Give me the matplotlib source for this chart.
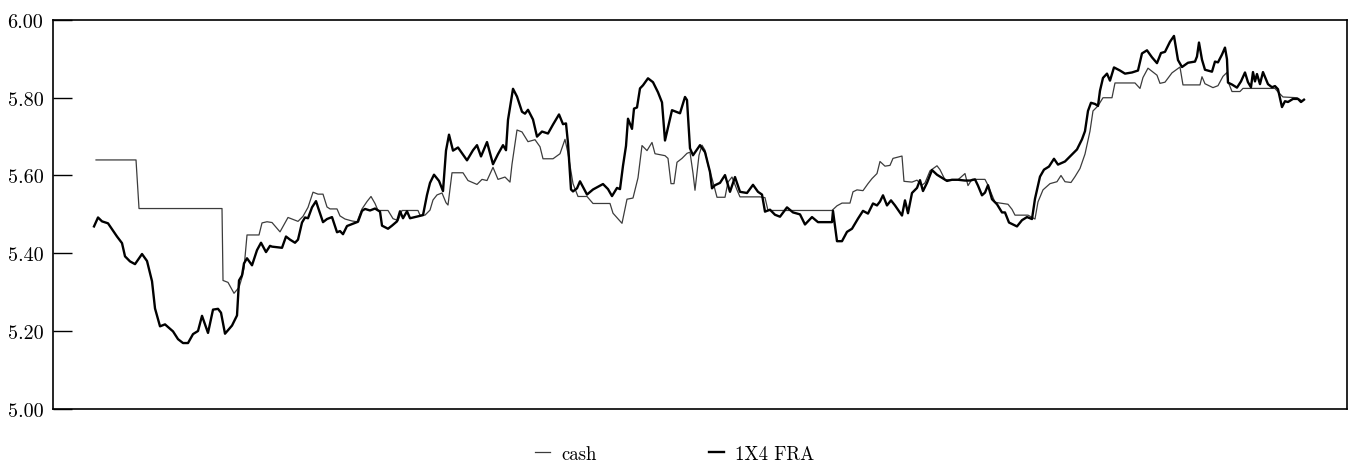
import matplotlib
matplotlib.use("Agg")
import matplotlib.pyplot as plt

# trading-day index (no dates shown on the axis) and rates in percent
fra_day = [-0.2, 0.6, 1.4, 2.6, 4.4, 5.4, 6.0, 7.0, 8.0, 9.4,
           10.4, 11.4, 12.0, 13.0, 14.0, 15.6, 16.6, 17.6, 18.6, 19.6,
           20.6, 21.4, 22.6, 23.6, 24.6, 25.2, 26.0, 27.4, 28.4, 28.8,
           29.4, 29.8, 30.4, 31.4, 32.4, 33.2, 34.2, 35.0, 35.4, 37.4,
           38.2, 39.0, 40.0, 40.6, 41.4, 42.0, 42.6, 43.4, 44.2, 44.6,
           45.6, 46.4, 47.4, 48.4, 49.0, 49.6, 50.4, 51.4, 52.6, 53.4,
           54.0, 55.0, 56.0, 57.0, 57.4, 58.6, 59.4, 60.4, 61.0, 61.6,
           62.4, 63.0, 64.6, 65.6, 66.4, 67.0, 67.8, 68.8, 69.6, 70.2,
           70.8, 71.6, 72.6, 74.4, 75.6, 76.4, 77.2, 78.4, 79.6, 80.6,
           81.6, 82.2, 82.6, 83.6, 84.4, 85.4, 86.0, 86.6, 87.6, 88.4,
           89.4, 90.6, 91.6, 92.8, 93.6, 94.2, 94.6, 95.2, 95.6, 96.4,
           97.0, 98.4, 99.6, 101.6, 102.6, 103.4, 104.4, 105.0, 105.6, 106.2,
           106.6, 107.4, 107.8, 108.4, 109.0, 109.6, 110.6, 111.6, 112.6, 113.4,
           114.0, 115.4, 117.0, 118.0, 118.4, 119.0, 119.6, 121.0, 122.0, 123.0,
           123.4, 124.0, 125.0, 126.0, 127.0, 128.0, 129.0, 130.4, 131.6, 132.6,
           133.4, 134.0, 135.0, 136.0, 137.0, 138.4, 139.6, 141.0, 142.0, 143.4,
           144.6, 147.4, 147.6, 148.4, 149.4, 150.4, 151.4, 152.6, 153.6, 154.6,
           155.6, 156.4, 157.0, 157.6, 158.4, 159.2, 160.0, 161.4, 162.0, 162.6,
           163.4, 164.4, 165.0, 165.6, 166.4, 167.4, 168.4, 169.4, 170.4, 171.4,
           172.6, 174.0, 175.0, 176.0, 176.6, 177.4, 178.0, 178.6, 179.4, 180.4,
           181.4, 182.0, 182.8, 183.6, 184.4, 185.4, 186.4, 187.4, 188.0, 189.0,
           189.8, 190.8, 191.8, 192.6, 194.0, 195.4, 196.4, 197.4, 198.0, 198.6,
           199.2, 200.0, 200.6, 201.0, 201.6, 202.4, 203.0, 203.8, 205.0, 206.0,
           207.4, 208.6, 209.4, 210.4, 211.4, 212.4, 213.2, 214.0, 215.0, 215.8,
           216.6, 217.4, 218.6, 220.0, 220.4, 220.8, 221.4, 222.0, 223.4, 224.0,
           224.6, 225.4, 226.0, 226.4, 226.6, 227.4, 228.4, 229.2, 230.0, 230.6,
           231.2, 231.6, 232.0, 232.4, 233.0, 233.6, 234.6, 235.4, 236.0, 236.6,
           237.4, 238.0, 238.6, 239.6, 240.6, 241.2, 241.8]
fra_rate = [5.469, 5.492, 5.482, 5.477, 5.443, 5.426, 5.392, 5.379, 5.372, 5.398,
            5.380, 5.328, 5.258, 5.212, 5.217, 5.199, 5.179, 5.169, 5.169, 5.192,
            5.200, 5.239, 5.195, 5.255, 5.257, 5.247, 5.193, 5.214, 5.240, 5.330,
            5.343, 5.374, 5.387, 5.369, 5.408, 5.427, 5.403, 5.419, 5.417, 5.414,
            5.443, 5.435, 5.427, 5.435, 5.479, 5.492, 5.490, 5.518, 5.534, 5.518,
            5.480, 5.488, 5.493, 5.454, 5.457, 5.449, 5.470, 5.475, 5.481, 5.509,
            5.514, 5.510, 5.515, 5.507, 5.471, 5.463, 5.471, 5.482, 5.508, 5.490,
            5.508, 5.490, 5.495, 5.498, 5.550, 5.581, 5.602, 5.586, 5.560, 5.664,
            5.705, 5.664, 5.672, 5.639, 5.665, 5.678, 5.649, 5.686, 5.629, 5.655,
            5.678, 5.665, 5.743, 5.823, 5.803, 5.764, 5.759, 5.769, 5.744, 5.700,
            5.713, 5.708, 5.731, 5.757, 5.732, 5.734, 5.683, 5.564, 5.559, 5.567,
            5.585, 5.551, 5.564, 5.578, 5.565, 5.547, 5.568, 5.565, 5.625, 5.676,
            5.746, 5.720, 5.772, 5.775, 5.824, 5.832, 5.850, 5.840, 5.814, 5.788,
            5.690, 5.768, 5.760, 5.802, 5.794, 5.670, 5.652, 5.678, 5.660, 5.609,
            5.567, 5.575, 5.581, 5.601, 5.558, 5.596, 5.558, 5.555, 5.576, 5.558,
            5.551, 5.507, 5.512, 5.499, 5.494, 5.518, 5.505, 5.500, 5.474, 5.493,
            5.480, 5.480, 5.509, 5.431, 5.431, 5.455, 5.463, 5.489, 5.509, 5.502,
            5.528, 5.523, 5.533, 5.549, 5.523, 5.536, 5.523, 5.497, 5.536, 5.503,
            5.555, 5.568, 5.588, 5.560, 5.581, 5.614, 5.602, 5.594, 5.586, 5.589,
            5.589, 5.587, 5.587, 5.590, 5.574, 5.549, 5.556, 5.575, 5.539, 5.526,
            5.505, 5.505, 5.479, 5.474, 5.469, 5.485, 5.493, 5.488, 5.540, 5.597,
            5.615, 5.623, 5.643, 5.628, 5.636, 5.654, 5.667, 5.693, 5.714, 5.766,
            5.787, 5.784, 5.779, 5.818, 5.851, 5.862, 5.844, 5.878, 5.870, 5.862,
            5.865, 5.870, 5.914, 5.922, 5.904, 5.889, 5.915, 5.918, 5.944, 5.959,
            5.897, 5.879, 5.890, 5.893, 5.906, 5.942, 5.898, 5.872, 5.867, 5.893,
            5.891, 5.911, 5.929, 5.899, 5.839, 5.834, 5.826, 5.842, 5.865, 5.840,
            5.827, 5.866, 5.842, 5.861, 5.835, 5.866, 5.835, 5.827, 5.830, 5.822,
            5.776, 5.791, 5.789, 5.797, 5.797, 5.789, 5.795]

cash_day = [0.2, 8.2, 8.8, 25.4, 25.6, 26.6, 27.8, 28.8, 29.4, 29.8,
            30.4, 32.8, 33.4, 34.4, 35.4, 37.0, 38.6, 39.6, 40.6, 41.6,
            42.6, 43.6, 44.6, 45.6, 46.4, 47.0, 48.4, 49.0, 50.0, 51.4,
            52.4, 53.4, 54.4, 55.2, 56.0, 56.6, 58.6, 59.6, 60.6, 61.4,
            64.6, 65.0, 66.0, 67.0, 67.6, 68.4, 69.4, 70.2, 70.6, 71.4,
            73.6, 74.6, 76.4, 77.4, 78.4, 79.6, 80.6, 82.0, 83.0, 83.4,
            84.4, 85.4, 86.6, 88.0, 89.0, 89.6, 91.6, 93.0, 94.0, 94.6,
            95.6, 96.6, 98.4, 99.6, 103.0, 103.6, 105.4, 106.4, 107.6, 108.6,
            109.4, 110.4, 111.4, 112.0, 114.0, 114.6, 115.2, 115.8, 116.4, 117.4,
            118.4, 119.0, 119.6, 120.0, 120.8, 121.4, 122.0, 122.6, 123.4, 124.4,
            126.0, 126.6, 127.4, 128.4, 129.0, 133.0, 134.0, 134.6, 147.4, 148.4,
            149.4, 151.0, 151.6, 152.4, 153.6, 154.6, 155.4, 156.4, 157.0, 158.0,
            159.0, 159.6, 161.4, 161.8, 163.4, 164.4, 165.4, 166.0, 167.0, 168.4,
            169.0, 170.0, 172.6, 174.0, 174.6, 175.4, 178.0, 178.6, 180.0, 182.6,
            183.4, 184.0, 186.6, 188.0, 188.6, 189.6, 191.0, 192.4, 193.2, 194.0,
            195.2, 196.0, 197.0, 198.0, 199.0, 199.6, 200.6, 201.6, 203.4, 204.0,
            208.0, 209.0, 209.6, 210.6, 212.4, 213.0, 214.0, 215.4, 217.0, 217.6,
            221.0, 221.4, 222.0, 223.6, 224.6, 225.6, 226.4, 226.6, 227.4, 229.0,
            229.6, 236.0, 236.6, 237.6, 240.4, 241.4]
cash_rate = [5.640, 5.640, 5.515, 5.515, 5.330, 5.325, 5.297, 5.312, 5.338, 5.361,
             5.447, 5.447, 5.478, 5.481, 5.479, 5.455, 5.492, 5.487, 5.482, 5.495,
             5.518, 5.557, 5.552, 5.552, 5.519, 5.514, 5.514, 5.496, 5.488, 5.483,
             5.481, 5.514, 5.533, 5.546, 5.528, 5.510, 5.510, 5.489, 5.484, 5.510,
             5.510, 5.498, 5.498, 5.511, 5.537, 5.550, 5.555, 5.530, 5.524, 5.607,
             5.607, 5.587, 5.577, 5.590, 5.587, 5.621, 5.590, 5.596, 5.583, 5.629,
             5.717, 5.712, 5.687, 5.692, 5.674, 5.643, 5.643, 5.656, 5.693, 5.657,
             5.579, 5.546, 5.546, 5.528, 5.528, 5.503, 5.477, 5.539, 5.542, 5.594,
             5.677, 5.664, 5.685, 5.656, 5.651, 5.644, 5.579, 5.579, 5.634, 5.644,
             5.657, 5.660, 5.606, 5.562, 5.652, 5.678, 5.665, 5.627, 5.593, 5.544,
             5.544, 5.583, 5.596, 5.563, 5.545, 5.545, 5.543, 5.510, 5.510, 5.522,
             5.529, 5.529, 5.558, 5.563, 5.561, 5.579, 5.592, 5.605, 5.636, 5.624,
             5.626, 5.644, 5.650, 5.585, 5.583, 5.588, 5.575, 5.581, 5.612, 5.625,
             5.615, 5.589, 5.589, 5.605, 5.574, 5.590, 5.590, 5.575, 5.531, 5.526,
             5.513, 5.498, 5.498, 5.488, 5.532, 5.563, 5.579, 5.584, 5.600, 5.584,
             5.582, 5.597, 5.618, 5.655, 5.714, 5.766, 5.779, 5.800, 5.800, 5.838,
             5.838, 5.824, 5.852, 5.876, 5.858, 5.837, 5.840, 5.864, 5.879, 5.833,
             5.833, 5.854, 5.836, 5.826, 5.831, 5.855, 5.865, 5.842, 5.816, 5.816,
             5.824, 5.824, 5.815, 5.802, 5.800, 5.792]

y_ticks = [5.0, 5.2, 5.4, 5.6, 5.8, 6.0]
y_labels = ['5.00', '5.20', '5.40', '5.60', '5.80', '6.00']

plt.rcParams['font.family'] = ['cmr10', 'DejaVu Serif']
plt.rcParams['axes.formatter.use_mathtext'] = True

fig = plt.figure(figsize=(13.49, 4.77), dpi=100)
ax = fig.add_axes([0.0393, 0.141, 0.9592, 0.815])

ax.plot(cash_day, cash_rate, color='#3c3c3c', lw=0.9, label='cash')
ax.plot(fra_day, fra_rate, color='black', lw=1.7, label='1X4 FRA')

ax.set_xlim(-8.4, 250.4)
ax.set_ylim(5.0, 6.0)
ax.set_xticks([])
ax.set_yticks(y_ticks)
ax.set_yticklabels(y_labels)
ax.tick_params(axis='y', direction='in', length=14, width=1.0, pad=7,
               labelsize=14.5)
for s in ax.spines.values():
    s.set_linewidth(1.2)

fig.legend(loc='center', bbox_to_anchor=(0.5, 0.046), ncol=2, frameon=False,
           fontsize=13.5, handlelength=0.8, handletextpad=0.6,
           columnspacing=6.0)

fig.savefig('out.png', dpi=100)
